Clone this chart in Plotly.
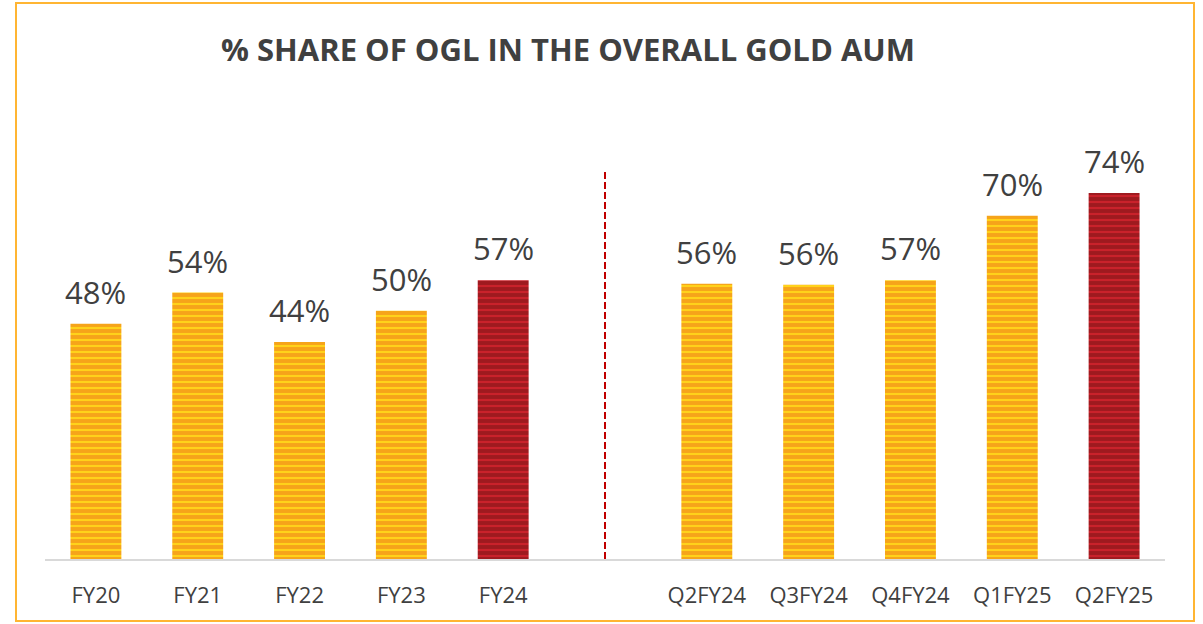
import plotly.graph_objects as go

categories = ["FY20", "FY21", "FY22", "FY23", "FY24", " ", "Q2FY24", "Q3FY24", "Q4FY24", "Q1FY25", "Q2FY25"]
values = [47.7, 54.0, 44.0, 50.3, 56.5, None, 55.8, 55.6, 56.5, 69.6, 74.2]
labels = ["48%", "54%", "44%", "50%", "57%", "", "56%", "56%", "57%", "70%", "74%"]
highlight = ["FY24", "Q2FY25"]
title_text = "% SHARE OF OGL IN THE OVERALL GOLD AUM"

ORANGE_BG = "#F6A41A"
ORANGE_FG = "#FFD21A"
RED_BG = "#9E1A1F"
RED_FG = "#C9222B"

orange_vals = [None if c in highlight else v for c, v in zip(categories, values)]
red_vals = [v if c in highlight else None for c, v in zip(categories, values)]

fig = go.Figure()
for vals, bgc, fgc in [(orange_vals, ORANGE_BG, ORANGE_FG), (red_vals, RED_BG, RED_FG)]:
    fig.add_trace(go.Bar(
        x=categories, y=vals, width=0.5,
        marker=dict(color=bgc, line=dict(width=0),
                    pattern=dict(shape="-", fillmode="replace", fgcolor=fgc, bgcolor=bgc,
                                 fgopacity=1, size=6, solidity=0.35)),
        hoverinfo="skip",
    ))

for c, v, t in zip(categories, values, labels):
    if v is None:
        continue
    fig.add_annotation(x=c, y=v, text=t, showarrow=False, yanchor="bottom", yshift=9,
                       font=dict(family="Open Sans", size=31, color="#404040"))

W, H = 1203, 624
L, R, T, B = 45, 38, 115, 65
pw, ph = W - L - R, H - T - B

def px_x(p):
    return (p - L) / pw

def px_y(p):
    return (H - B - p) / ph

fig.update_layout(
    width=W, height=H,
    margin=dict(l=L, r=R, t=T, b=B),
    paper_bgcolor="white", plot_bgcolor="white",
    showlegend=False,
    barmode="overlay",
    title=dict(text="<b>" + title_text + "</b>", x=px_x(568), xanchor="center",
               xref="paper", y=1 - 50 / H, yanchor="middle", yref="container",
               font=dict(family="Open Sans", size=31, color="#404040")),
    xaxis=dict(type="category", categoryorder="array", categoryarray=categories,
               showline=True, linecolor="#D9D9D9", linewidth=1.5,
               showgrid=False, ticks="", ticklabelstandoff=16,
               tickfont=dict(family="Open Sans", size=22, color="#404040")),
    yaxis=dict(range=[0, 90], visible=False, showgrid=False),
    shapes=[
        dict(type="line", xref="x", yref="y", x0=" ", x1=" ", y0=0, y1=78.5,
             line=dict(color="#C00000", width=2, dash="7px,3px")),
        dict(type="rect", xref="paper", yref="paper",
             x0=px_x(16), x1=px_x(1194), y0=px_y(621), y1=px_y(3),
             line=dict(color="#FFB533", width=2), fillcolor="rgba(0,0,0,0)"),
    ],
)

fig.write_html("out.html", config={"displayModeBar": False},
               post_script="document.body.style.margin='0';document.body.style.overflow='hidden';")
